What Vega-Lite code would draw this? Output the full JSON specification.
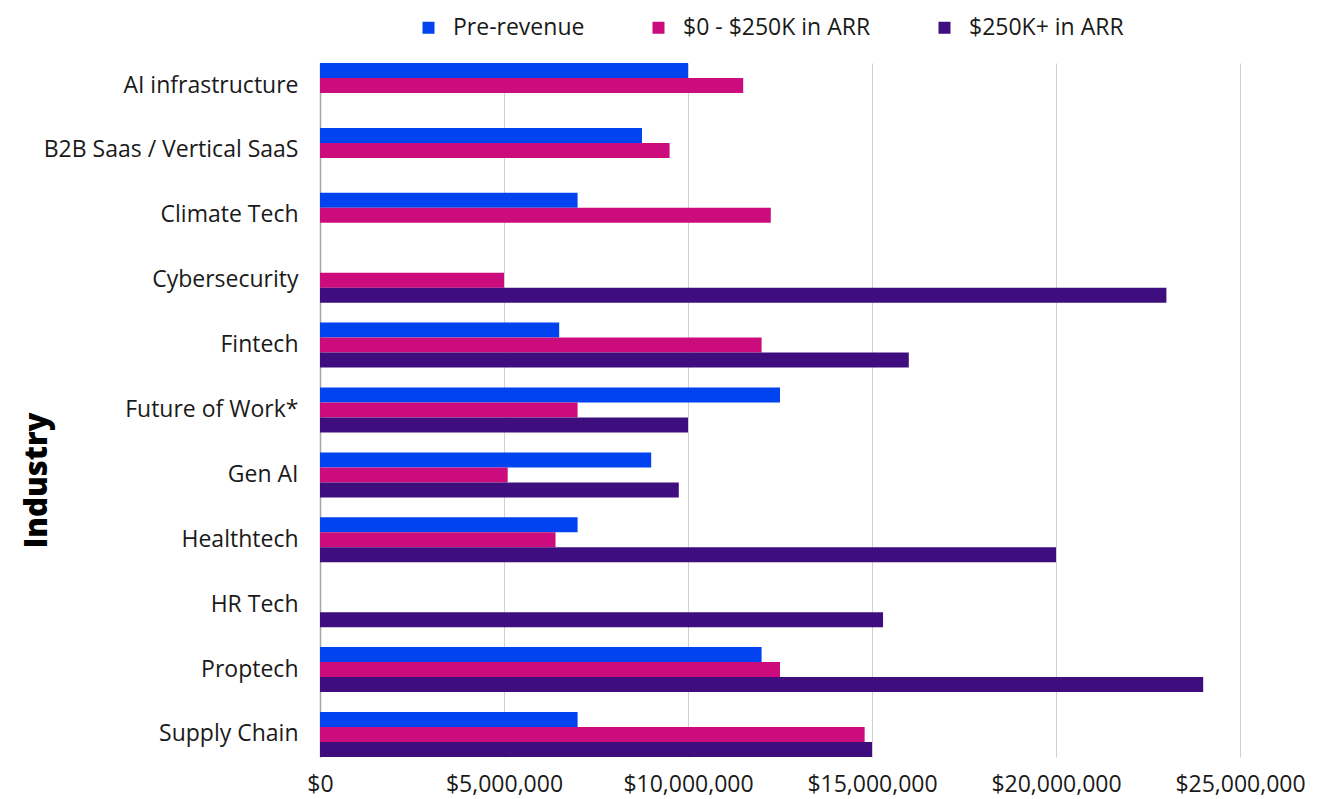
{
  "$schema": "https://vega.github.io/schema/vega-lite/v6.json",
  "autosize": {"type": "none"},
  "padding": {"left": 320, "top": 63, "right": 83, "bottom": 42},
  "width": 920,
  "height": 694,
  "background": "white",
  "data": {
    "values": [
      {"industry": "AI infrastructure", "stage": "Pre-revenue", "value": 10000000},
      {"industry": "AI infrastructure", "stage": "$0 - $250K in ARR", "value": 11500000},
      {"industry": "B2B Saas / Vertical SaaS", "stage": "Pre-revenue", "value": 8750000},
      {"industry": "B2B Saas / Vertical SaaS", "stage": "$0 - $250K in ARR", "value": 9500000},
      {"industry": "Climate Tech", "stage": "Pre-revenue", "value": 7000000},
      {"industry": "Climate Tech", "stage": "$0 - $250K in ARR", "value": 12250000},
      {"industry": "Cybersecurity", "stage": "$0 - $250K in ARR", "value": 5000000},
      {"industry": "Cybersecurity", "stage": "$250K+ in ARR", "value": 23000000},
      {"industry": "Fintech", "stage": "Pre-revenue", "value": 6500000},
      {"industry": "Fintech", "stage": "$0 - $250K in ARR", "value": 12000000},
      {"industry": "Fintech", "stage": "$250K+ in ARR", "value": 16000000},
      {"industry": "Future of Work*", "stage": "Pre-revenue", "value": 12500000},
      {"industry": "Future of Work*", "stage": "$0 - $250K in ARR", "value": 7000000},
      {"industry": "Future of Work*", "stage": "$250K+ in ARR", "value": 10000000},
      {"industry": "Gen AI", "stage": "Pre-revenue", "value": 9000000},
      {"industry": "Gen AI", "stage": "$0 - $250K in ARR", "value": 5100000},
      {"industry": "Gen AI", "stage": "$250K+ in ARR", "value": 9750000},
      {"industry": "Healthtech", "stage": "Pre-revenue", "value": 7000000},
      {"industry": "Healthtech", "stage": "$0 - $250K in ARR", "value": 6400000},
      {"industry": "Healthtech", "stage": "$250K+ in ARR", "value": 20000000},
      {"industry": "HR Tech", "stage": "$250K+ in ARR", "value": 15300000},
      {"industry": "Proptech", "stage": "Pre-revenue", "value": 12000000},
      {"industry": "Proptech", "stage": "$0 - $250K in ARR", "value": 12500000},
      {"industry": "Proptech", "stage": "$250K+ in ARR", "value": 24000000},
      {"industry": "Supply Chain", "stage": "Pre-revenue", "value": 7000000},
      {"industry": "Supply Chain", "stage": "$0 - $250K in ARR", "value": 14800000},
      {"industry": "Supply Chain", "stage": "$250K+ in ARR", "value": 15000000}
    ]
  },
  "mark": {"type": "bar"},
  "encoding": {
    "y": {
      "field": "industry",
      "type": "nominal",
      "sort": null,
      "scale": {"paddingInner": 0.306, "paddingOuter": 0},
      "axis": {
        "title": "Industry",
        "titleFont": "Open Sans",
        "titleFontWeight": 800,
        "titleFontSize": 31,
        "titleColor": "#000000",
        "titleAngle": -90,
        "titleAlign": "center",
        "titleBaseline": "middle",
        "titleX": -283,
        "titleY": 417,
        "labelFont": "Open Sans",
        "labelFontSize": 23,
        "labelColor": "#1a1a1a",
        "labelPadding": 22,
        "labelLimit": 400,
        "ticks": false,
        "domain": true,
        "domainColor": "#a6a6a6",
        "domainWidth": 1.5,
        "grid": false
      }
    },
    "yOffset": {
      "field": "stage",
      "type": "nominal",
      "sort": ["Pre-revenue", "$0 - $250K in ARR", "$250K+ in ARR"],
      "scale": {"paddingInner": 0, "paddingOuter": 0}
    },
    "x": {
      "field": "value",
      "type": "quantitative",
      "scale": {"domain": [0, 25000000], "nice": false},
      "axis": {
        "title": null,
        "values": [0, 5000000, 10000000, 15000000, 20000000, 25000000],
        "format": "$,.0f",
        "labelFont": "Open Sans",
        "labelFontSize": 23,
        "labelColor": "#1a1a1a",
        "labelPadding": 16,
        "labelOverlap": false,
        "labelFlush": false,
        "labelBound": false,
        "ticks": false,
        "domain": false,
        "grid": true,
        "gridColor": "#d0d0d0",
        "gridWidth": 1
      }
    },
    "color": {
      "field": "stage",
      "type": "nominal",
      "sort": ["Pre-revenue", "$0 - $250K in ARR", "$250K+ in ARR"],
      "scale": {
        "domain": ["Pre-revenue", "$0 - $250K in ARR", "$250K+ in ARR"],
        "range": ["#0043EF", "#CC0C7D", "#3E0E7E"]
      },
      "legend": {
        "title": null,
        "orient": "none",
        "direction": "horizontal",
        "legendX": 97,
        "legendY": -47,
        "symbolType": "square",
        "symbolSize": 144,
        "symbolStrokeWidth": 0,
        "symbolOpacity": 1,
        "labelFont": "Open Sans",
        "labelFontSize": 23,
        "labelColor": "#1a1a1a",
        "labelOffset": 13,
        "columnPadding": 62,
        "labelLimit": 300
      }
    }
  },
  "config": {
    "view": {"stroke": null}
  }
}
